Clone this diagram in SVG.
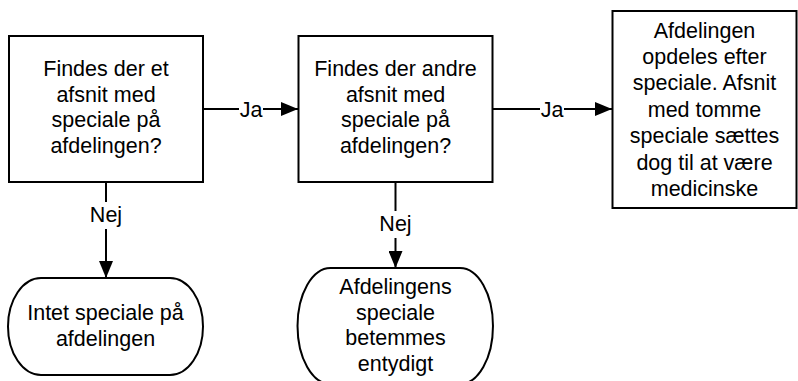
<svg xmlns="http://www.w3.org/2000/svg" width="798" height="381" viewBox="0 0 798 381">
  <style>
    .shape { fill: #ffffff; stroke: #000000; stroke-width: 2; }
    .line { fill: none; stroke: #000000; stroke-width: 2; }
    .txt { font-family: "Liberation Sans", Arial, sans-serif; font-size: 21.5px; fill: #000000; text-anchor: middle; }
    .lbl-bg { fill: #ffffff; stroke: none; }
  </style>
  <defs>
    <marker id="arrow" markerUnits="userSpaceOnUse" markerWidth="18" markerHeight="14" refX="17" refY="7" orient="auto">
      <path d="M0,0 L17,7 L0,14 z" fill="#000000"/>
    </marker>
  </defs>
  <rect width="798" height="381" fill="#ffffff"/>

  <!-- connectors -->
  <g id="connectors">
    <path class="line" d="M203,109 L298,109" marker-end="url(#arrow)"/>
    <rect class="lbl-bg" x="239" y="97" width="24" height="24"/>
    <text class="txt" x="251" y="116.5">Ja</text>

    <path class="line" d="M493,109 L612,109" marker-end="url(#arrow)"/>
    <rect class="lbl-bg" x="540" y="97" width="24" height="24"/>
    <text class="txt" x="552" y="116.5">Ja</text>

    <path class="line" d="M106,182 L106,278" marker-end="url(#arrow)"/>
    <rect class="lbl-bg" x="89" y="202" width="34" height="27"/>
    <text class="txt" x="106" y="222">Nej</text>

    <path class="line" d="M395.5,182 L395.5,268" marker-end="url(#arrow)"/>
    <rect class="lbl-bg" x="378" y="211" width="34" height="27"/>
    <text class="txt" x="395.5" y="231">Nej</text>
  </g>

  <g id="q1">
    <rect class="shape" x="9" y="36" width="194" height="146"/>
    <text class="txt" x="106" y="76">Findes der et</text>
    <text class="txt" x="106" y="101.7">afsnit med</text>
    <text class="txt" x="106" y="127.4">speciale på</text>
    <text class="txt" x="106" y="153.1">afdelingen?</text>
  </g>

  <g id="q2">
    <rect class="shape" x="298.5" y="36" width="194" height="146"/>
    <text class="txt" x="395.5" y="76">Findes der andre</text>
    <text class="txt" x="395.5" y="101.7">afsnit med</text>
    <text class="txt" x="395.5" y="127.4">speciale på</text>
    <text class="txt" x="395.5" y="153.1">afdelingen?</text>
  </g>

  <g id="split">
    <rect class="shape" x="612.5" y="11" width="184" height="197"/>
    <text class="txt" x="704.5" y="37.5">Afdelingen</text>
    <text class="txt" x="704.5" y="63.9">opdeles efter</text>
    <text class="txt" x="704.5" y="90.3">speciale. Afsnit</text>
    <text class="txt" x="704.5" y="116.7">med tomme</text>
    <text class="txt" x="704.5" y="143.1">speciale sættes</text>
    <text class="txt" x="704.5" y="169.5">dog til at være</text>
    <text class="txt" x="704.5" y="195.9">medicinske</text>
  </g>

  <g id="none">
    <path class="shape" d="M41,278 L170,278 A33,48.5 0 0 1 170,375 L41,375 A33,48.5 0 0 1 41,278 Z"/>
    <text class="txt" x="105.5" y="320">Intet speciale på</text>
    <text class="txt" x="105.5" y="345.7">afdelingen</text>
  </g>

  <g id="unique">
    <path class="shape" d="M330.5,268 L460,268 A33,58 0 0 1 460,384 L330.5,384 A33,58 0 0 1 330.5,268 Z"/>
    <text class="txt" x="395.5" y="294">Afdelingens</text>
    <text class="txt" x="395.5" y="319.5">speciale</text>
    <text class="txt" x="395.5" y="345">betemmes</text>
    <text class="txt" x="395.5" y="370.5">entydigt</text>
  </g>
</svg>
